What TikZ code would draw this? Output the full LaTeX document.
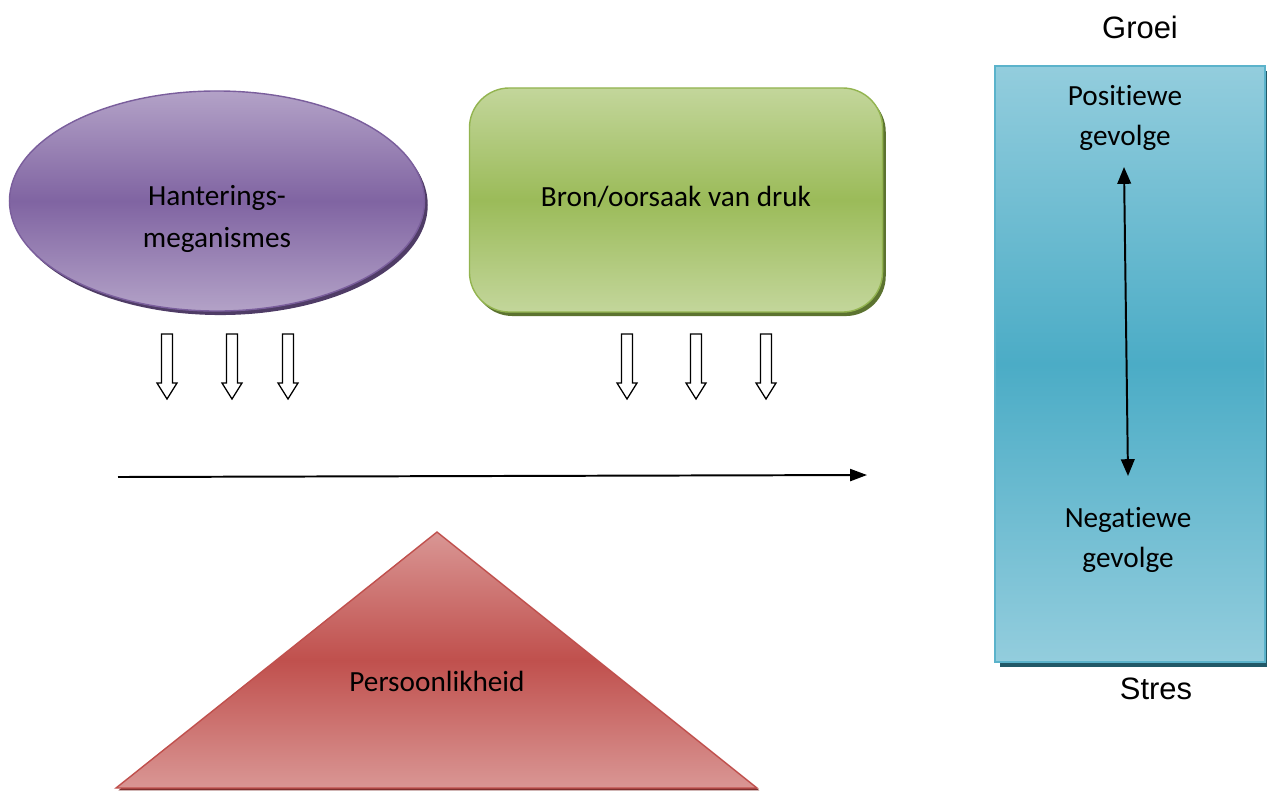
\documentclass[tikz,border=0pt]{standalone}
\usepackage{fontspec}
\setmainfont{Carlito}[Ligatures={NoCommon}]
\newfontfamily\arialfont{Liberation Sans}
\usetikzlibrary{shapes.geometric, arrows.meta, shadows, positioning}
\definecolor{purplelight}{HTML}{B3A2C7}
\definecolor{purplemid}{HTML}{8064A2}
\definecolor{purpleline}{HTML}{7A5E9C}
\definecolor{purpleshadow}{HTML}{4F3C66}
\definecolor{greenlight}{HTML}{C3D69B}
\definecolor{greenmid}{HTML}{9BBB59}
\definecolor{greenline}{HTML}{93B450}
\definecolor{greenshadow}{HTML}{5C7330}
\definecolor{teallight}{HTML}{93CDDD}
\definecolor{tealmid}{HTML}{4BACC6}
\definecolor{tealline}{HTML}{5BB3CB}
\definecolor{tealshadow}{HTML}{215968}
\definecolor{redlight}{HTML}{D99694}
\definecolor{redmid}{HTML}{C0504D}
\definecolor{redline}{HTML}{C0504D}
\definecolor{redshadow}{HTML}{7E2F2D}
\tikzset{
    x=0.025cm, y=-0.025cm, % one unit is one pixel of the sketch
    >={Triangle[length=0.42cm, width=0.34cm]},
    txt/.style={font=\fontsize{20.8}{30}\selectfont, align=center, inner sep=0pt},
    arialtxt/.style={font=\arialfont\fontsize{22}{26}\selectfont, inner sep=0pt},
    blob/.style={ellipse, minimum width=10.375cm, minimum height=5.5cm, inner sep=0pt,
        draw=purpleline, line width=1pt, top color=purplelight, bottom color=purplelight, middle color=purplemid,
        drop shadow={shadow xshift=0.08cm, shadow yshift=-0.1cm, fill=purpleshadow, opacity=1}},
    cause/.style={rectangle, rounded corners=1cm, minimum width=10.325cm, minimum height=5.6cm, inner sep=0pt,
        draw=greenline, line width=1pt, top color=greenlight, bottom color=greenlight, middle color=greenmid,
        drop shadow={shadow xshift=0.08cm, shadow yshift=-0.1cm, fill=greenshadow, opacity=1}},
    scale box/.style={rectangle, minimum width=6.75cm, minimum height=14.9cm, inner sep=0pt,
        draw=tealline, line width=1pt, top color=teallight, bottom color=teallight, middle color=tealmid,
        drop shadow={shadow xshift=0.12cm, shadow yshift=-0.12cm, fill=tealshadow, opacity=1}},
    hollow/.style={draw=black, line width=0.9pt, fill=white},
}
\begin{document}
\begin{tikzpicture}
    \useasboundingbox (0,0) rectangle (1267,792);

    % coping and source
    \node[blob] at (217,201) (COPING) {};
    \node[txt] at (217,219) (COPINGTXT) {Hanterings-\\meganismes};
    \node[cause] at (676,200) (SOURCE) {};
    \node[txt] at (676,197) (SOURCETXT) {Bron/oorsaak van druk};

    % hollow down arrows
    \foreach \xc in {167,232,288,627,696,766}
        \draw[hollow] (\xc-5.5,334) -- (\xc-5.5,383) -- (\xc-10,383) -- (\xc,399)
            -- (\xc+10,383) -- (\xc+5.5,383) -- (\xc+5.5,334) -- cycle;

    % time line
    \coordinate (LSTART) at (118,477);
    \coordinate (LEND) at (867,475);
    \draw[->, line width=1.4pt, >={Triangle[length=0.42cm, width=0.3cm]}] (LSTART) -- (LEND);

    % personality
    \coordinate (APEX) at (437,532);
    \coordinate (BLEFT) at (116,788);
    \coordinate (BRIGHT) at (757,788);
    \fill[redshadow] ([xshift=0.06cm,yshift=-0.06cm]APEX) -- ([xshift=0.06cm,yshift=-0.06cm]BLEFT) -- ([xshift=0.06cm,yshift=-0.06cm]BRIGHT) -- cycle;
    \shade[top color=redlight, bottom color=redlight, middle color=redmid, draw=redline, line width=1pt]
        (APEX) -- (BLEFT) -- (BRIGHT) -- cycle;
    \node[txt] at (437,681) (PERSON) {Persoonlikheid};

    % outcome scale
    \node[scale box] at (1130,364) (SCALE) {};
    \node[txt, font=\fontsize{20.8}{28.5}\selectfont] at (1125,118) (POS) {Positiewe\\gevolge};
    \node[txt, font=\fontsize{20.8}{28.5}\selectfont] at (1128,540) (NEG) {Negatiewe\\gevolge};
    \coordinate (UPTIP) at (1124,167);
    \coordinate (DOWNTIP) at (1128,476);
    \draw[<->, line width=1.4pt] (UPTIP) -- (DOWNTIP);
    \node[arialtxt] at (1140,27) (GROWTH) {Groei};
    \node[arialtxt] at (1156,689) (STRESS) {Stres};
\end{tikzpicture}
\end{document}
